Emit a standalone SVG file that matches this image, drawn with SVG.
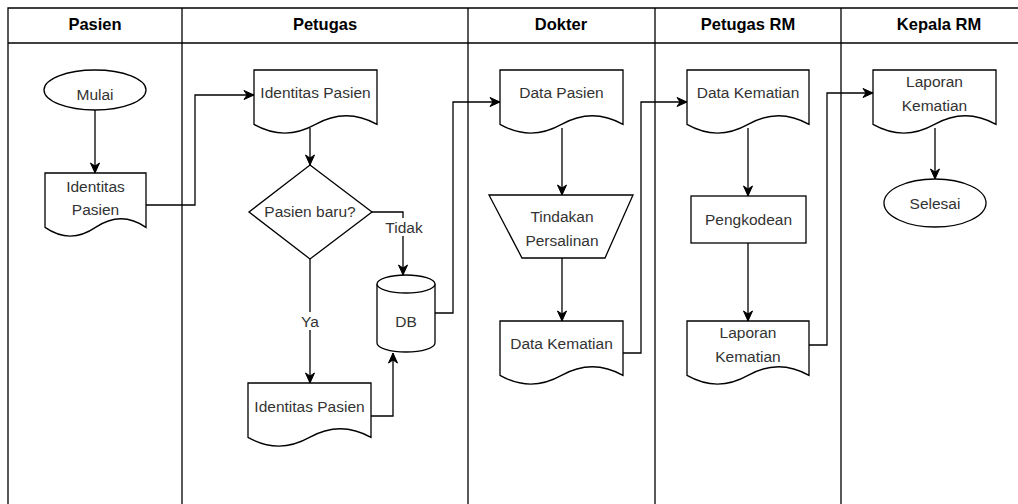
<svg xmlns="http://www.w3.org/2000/svg" width="1018" height="504" viewBox="0 0 1018 504">
<style>
.lane{fill:none;stroke:#000;stroke-width:1.3}
.shape{fill:#fff;stroke:#000;stroke-width:1.3}
.edge{fill:none;stroke:#000;stroke-width:1.3}
.hdr{font-family:"Liberation Sans",Arial,sans-serif;font-size:16.5px;font-weight:bold;fill:#000;text-anchor:middle}
.t{font-family:"Liberation Sans",Arial,sans-serif;font-size:15.5px;fill:#333;text-anchor:middle}
.lbl{fill:#fff;stroke:none}
</style>
<defs>
<marker id="arr" markerUnits="userSpaceOnUse" markerWidth="12" markerHeight="12" viewBox="0 0 12 12" refX="11" refY="6" orient="auto">
<path d="M1,1.5 L11,6 L1,10.5 L4,6 Z" fill="#000" stroke="#000" stroke-width="1"/>
</marker>
</defs>
<rect x="0" y="0" width="1018" height="504" fill="#fff"/>
<g id="pool">
<path class="lane" d="M1030,8 H8 V520"/>
<path class="lane" d="M8,43 H1030"/>
<path class="lane" d="M182,8 V520 M468,8 V520 M655,8 V520 M841,8 V520"/>
<text class="hdr" x="95" y="30">Pasien</text>
<text class="hdr" x="325" y="30">Petugas</text>
<text class="hdr" x="561" y="30">Dokter</text>
<text class="hdr" x="748" y="30">Petugas RM</text>
<text class="hdr" x="939" y="30">Kepala RM</text>
</g>
<g id="connectors">
<path class="edge" marker-end="url(#arr)" d="M95,110 V173"/>
<path class="edge" marker-end="url(#arr)" d="M146,205 H195 V95 H254"/>
<path class="edge" marker-end="url(#arr)" d="M310,128 V165"/>
<path class="edge" marker-end="url(#arr)" d="M372,212 H403 V275"/>
<path class="edge" marker-end="url(#arr)" d="M310,259 V383"/>
<path class="edge" marker-end="url(#arr)" d="M371,416 H393 V353"/>
<path class="edge" marker-end="url(#arr)" d="M435,313 H453 V102 H500"/>
<path class="edge" marker-end="url(#arr)" d="M562,128 V195"/>
<path class="edge" marker-end="url(#arr)" d="M562,258 V321"/>
<path class="edge" marker-end="url(#arr)" d="M623,353 H641 V102 H687"/>
<path class="edge" marker-end="url(#arr)" d="M748,128 V196"/>
<path class="edge" marker-end="url(#arr)" d="M748,243 V321"/>
<path class="edge" marker-end="url(#arr)" d="M809,345 H827 V93 H873"/>
<path class="edge" marker-end="url(#arr)" d="M935,128 V179"/>
<rect class="lbl" x="384" y="218" width="40" height="18"/>
<text class="t" x="404" y="233">Tidak</text>
<rect class="lbl" x="299" y="312" width="22" height="18"/>
<text class="t" x="310" y="327">Ya</text>
</g>
<g id="mulai">
<ellipse class="shape" cx="95" cy="90" rx="51" ry="20"/>
<text class="t" x="95" y="100">Mulai</text>
</g>
<g id="doc-pasien">
<path class="shape" d="M45,173 H146 V227.4 Q121.25,210.1 95.5,227.4 Q70.25,244.7 45,227.4 Z"/>
<text class="t" x="95.5" y="192">Identitas</text>
<text class="t" x="95.5" y="215">Pasien</text>
</g>
<g id="doc-petugas-1">
<path class="shape" d="M254,70 H377 V124.4 Q346.25,107.1 315.5,124.4 Q284.75,141.7 254,124.4 Z"/>
<text class="t" x="315.5" y="98">Identitas Pasien</text>
</g>
<g id="decision">
<polygon class="shape" points="310,165 372,212 310,259 249,212"/>
<text class="t" x="310" y="217">Pasien baru?</text>
</g>
<g id="db">
<path class="shape" d="M377,284 A29,9 0 0 1 435,284 V343 A29,9 0 0 1 377,343 Z"/>
<path class="shape" d="M377,284 A29,9 0 0 0 435,284"/>
<text class="t" x="406" y="327">DB</text>
</g>
<g id="doc-petugas-2">
<path class="shape" d="M248,383 H371 V437.4 Q340.25,420.1 309.5,437.4 Q278.75,454.7 248,437.4 Z"/>
<text class="t" x="309.5" y="412">Identitas Pasien</text>
</g>
<g id="doc-dokter-1">
<path class="shape" d="M500,70 H623 V124.4 Q592.25,107.1 561.5,124.4 Q530.75,141.7 500,124.4 Z"/>
<text class="t" x="561.5" y="98">Data Pasien</text>
</g>
<g id="tindakan">
<polygon class="shape" points="489,195 633,195 605,258 522,258"/>
<text class="t" x="562" y="222">Tindakan</text>
<text class="t" x="562" y="246">Persalinan</text>
</g>
<g id="doc-dokter-2">
<path class="shape" d="M500,321 H623 V375.4 Q592.25,358.1 561.5,375.4 Q530.75,392.7 500,375.4 Z"/>
<text class="t" x="561.5" y="349">Data Kematian</text>
</g>
<g id="doc-prm-1">
<path class="shape" d="M687,70 H809 V124.4 Q778.5,107.1 748,124.4 Q717.5,141.7 687,124.4 Z"/>
<text class="t" x="748" y="98">Data Kematian</text>
</g>
<g id="pengkodean">
<rect class="shape" x="691" y="196" width="115" height="47"/>
<text class="t" x="748.5" y="225">Pengkodean</text>
</g>
<g id="doc-prm-2">
<path class="shape" d="M687,321 H809 V375.4 Q778.5,358.1 748,375.4 Q717.5,392.7 687,375.4 Z"/>
<text class="t" x="748" y="338">Laporan</text>
<text class="t" x="748" y="362">Kematian</text>
</g>
<g id="doc-kepala">
<path class="shape" d="M873,70 H996 V124.4 Q965.25,107.1 934.5,124.4 Q903.75,141.7 873,124.4 Z"/>
<text class="t" x="934.5" y="87">Laporan</text>
<text class="t" x="934.5" y="111">Kematian</text>
</g>
<g id="selesai">
<ellipse class="shape" cx="935" cy="203" rx="51" ry="24"/>
<text class="t" x="935" y="209">Selesai</text>
</g>
</svg>
